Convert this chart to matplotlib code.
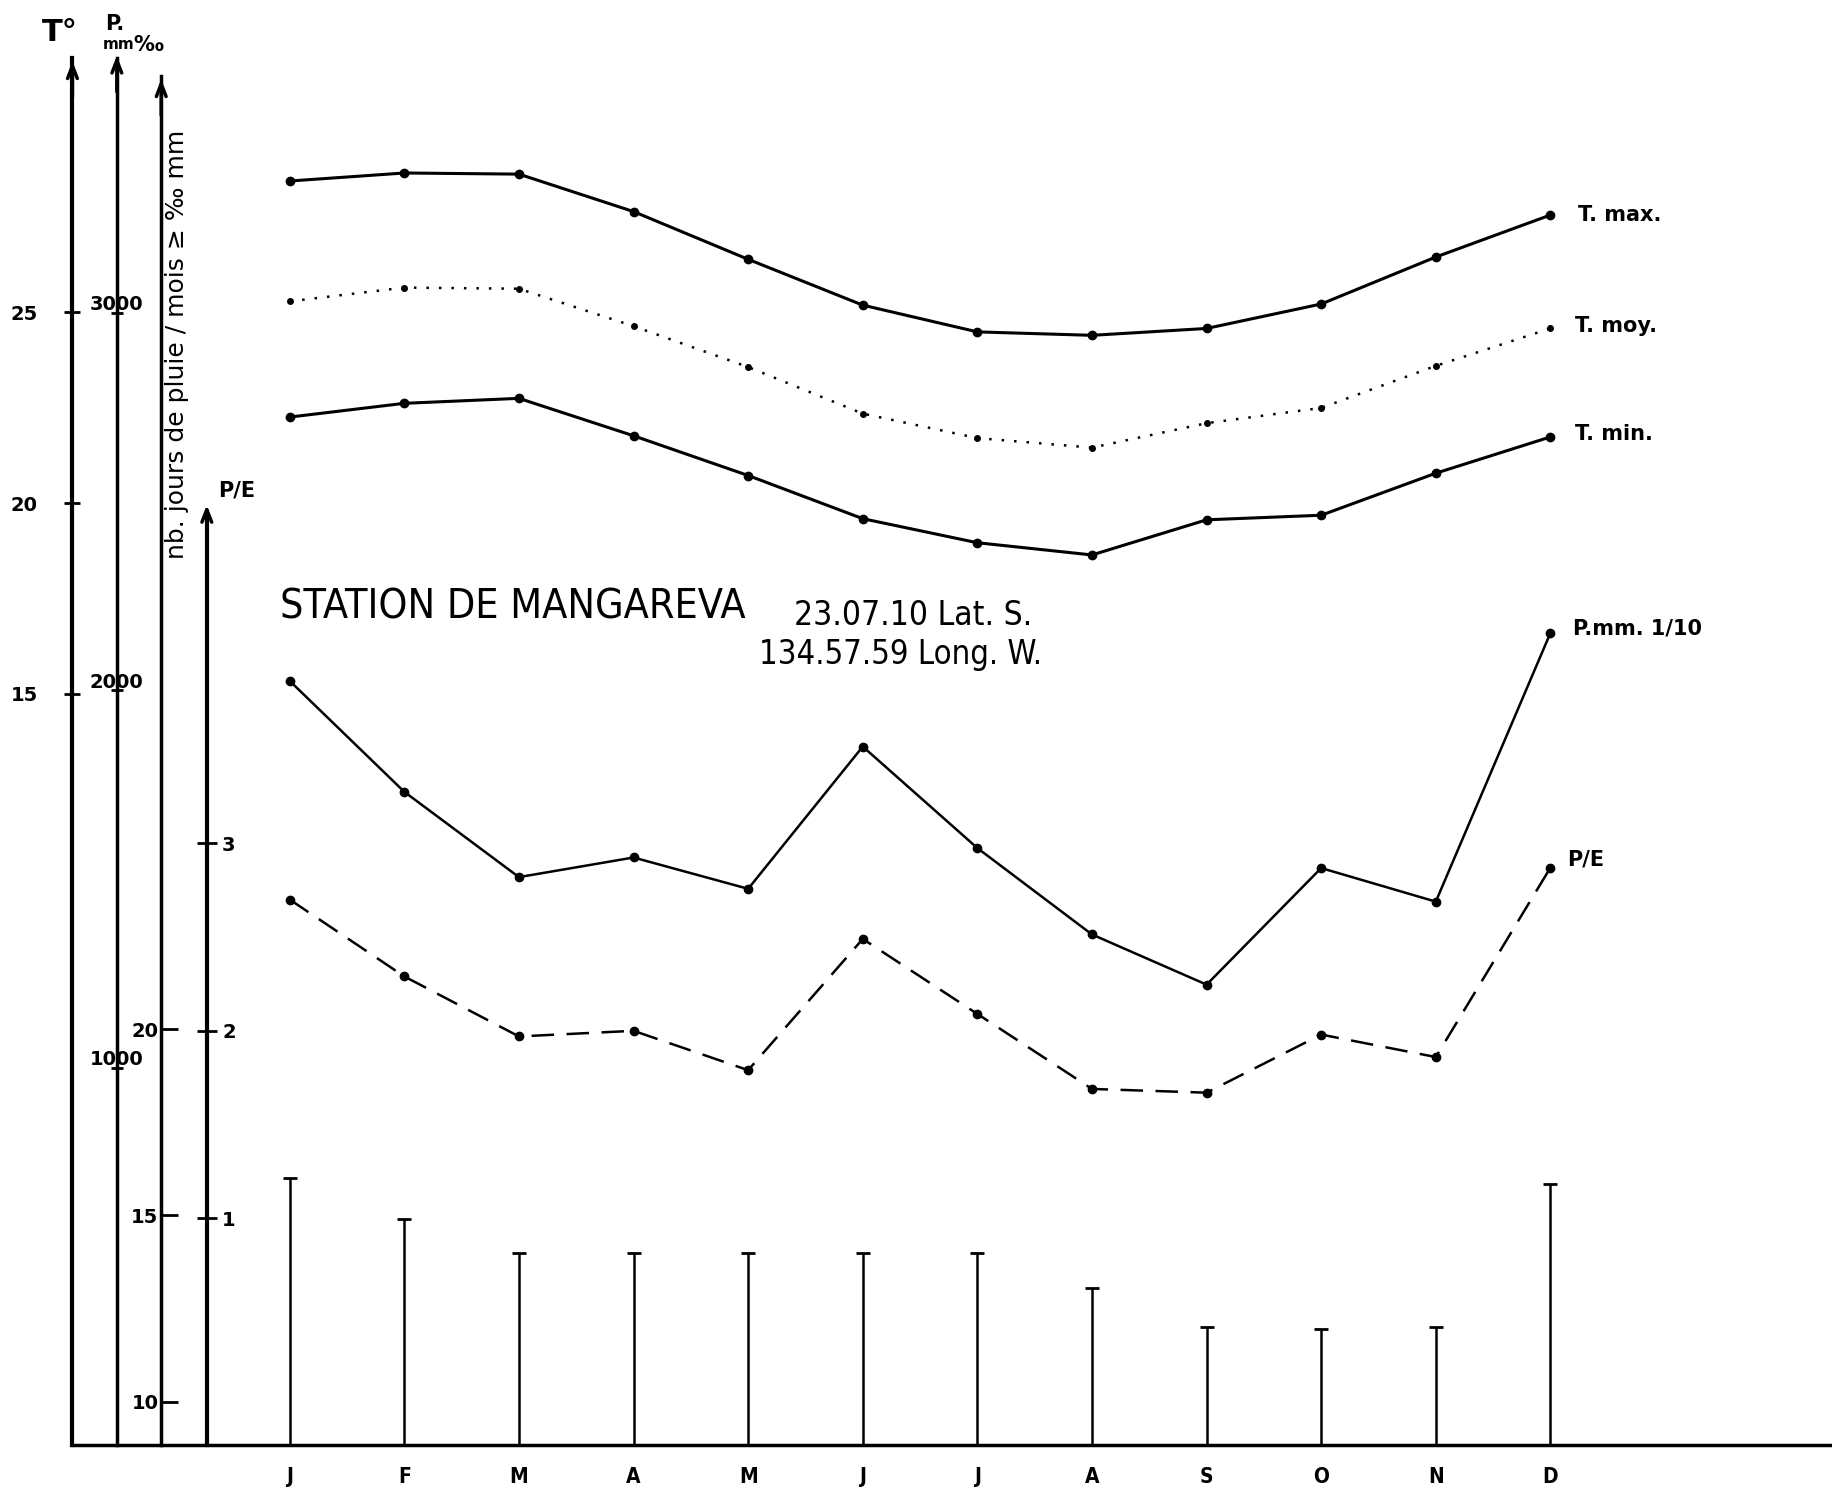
import matplotlib.pyplot as plt

# mois
months = ['J', 'F', 'M', 'A', 'M', 'J', 'J', 'A', 'S', 'O', 'N', 'D']
x = list(range(1, 13))

# temperatures (deg C)
t_max = [28.43, 28.64, 28.61, 27.63, 26.38, 25.18, 24.48, 24.39, 24.57, 25.21, 26.44, 27.54]
t_moy = [25.28, 25.64, 25.61, 24.63, 23.56, 22.34, 21.70, 21.45, 22.09, 22.49, 23.59, 24.57]
t_min = [22.25, 22.61, 22.74, 21.76, 20.72, 19.59, 18.96, 18.64, 19.56, 19.68, 20.78, 21.73]

# precipitations (1/10 mm)
p_mm = [2025, 1731, 1505, 1557, 1474, 1851, 1582, 1353, 1220, 1529, 1440, 2152]

# rapport P/E
p_e = [2.70, 2.29, 1.97, 2.00, 1.79, 2.49, 2.09, 1.69, 1.67, 1.98, 1.86, 2.87]

# nb jours de pluie / mois
rain_days = [16.0, 14.9, 14.0, 14.0, 14.0, 14.0, 14.0, 13.06, 12.0, 11.95, 12.0, 15.85]

t_ticks = [15, 20, 25]
p_ticks = [1000, 2000, 3000]
d_ticks = [10, 15, 20]
pe_ticks = [1, 2, 3]

hand = ['DejaVu Sans']

fig = plt.figure(figsize=(18.32, 14.94), dpi=100)
ax = fig.add_axes([0.03954, 0.03284, 0.96046, 0.92807])
ax.set_xlim(-0.896, 14.457)
ax.set_ylim(-4.66, 31.64)

ax_p = ax.twinx()
ax_p.set_ylim(0, 3675)
ax_d = ax.twinx()
ax_d.set_ylim(8.84, 46.06)
ax_pe = ax.twinx()
ax_pe.set_ylim(-0.209, 7.187)

for a in (ax, ax_p, ax_d, ax_pe):
    for s in a.spines.values():
        s.set_visible(False)
    a.patch.set_visible(False)

# axe des x (ligne de base)
ax.spines['bottom'].set_visible(True)
ax.spines['bottom'].set_linewidth(2.5)
ax.set_xticks(x)
ax.set_xticklabels(months, fontsize=15, fontweight='bold', family=hand, fontstretch='condensed')
ax.tick_params(axis='x', length=0, pad=16)

# axe T
ax.spines['left'].set_visible(True)
ax.spines['left'].set_linewidth(3)
ax.set_yticks(t_ticks)
ax.set_yticklabels([str(t) for t in t_ticks], fontsize=14, fontweight='bold')
ax.tick_params(axis='y', direction='inout', length=12, width=2, pad=19)

# axe P
pos_p = 0.02523
ax_p.yaxis.set_ticks_position('left')
ax_p.spines['left'].set_position(('axes', pos_p))
ax_p.spines['left'].set_visible(True)
ax_p.spines['left'].set_linewidth(2.5)
ax_p.set_yticks(p_ticks)
ax_p.set_yticklabels([])
ax_p.tick_params(axis='y', direction='inout', length=8, width=2)
for v in p_ticks:
    ax_p.annotate(str(v), xy=(pos_p, v), xycoords=ax_p.get_yaxis_transform(),
                  xytext=(0, 6), textcoords='offset points', ha='center', va='center',
                  fontsize=14, fontweight='bold')

# axe nb jours
pos_d = 0.05046
ax_d.yaxis.set_ticks_position('left')
ax_d.spines['left'].set_position(('axes', pos_d))
ax_d.spines['left'].set_visible(True)
ax_d.spines['left'].set_linewidth(2.5)
ax_d.spines['left'].set_bounds(8.84, 45.6)
ax_d.set_yticks(d_ticks)
ax_d.set_yticklabels([str(v) for v in d_ticks], fontsize=14, fontweight='bold')
ax_d.tick_params(axis='y', direction='in', length=12, width=2, pad=2)

# axe P/E
pos_pe = 0.07636
ax_pe.yaxis.set_ticks_position('right')
ax_pe.spines['right'].set_position(('axes', pos_pe))
ax_pe.spines['right'].set_visible(True)
ax_pe.spines['right'].set_linewidth(3)
ax_pe.spines['right'].set_bounds(-0.209, 4.75)
ax_pe.set_yticks(pe_ticks)
ax_pe.set_yticklabels([str(v) for v in pe_ticks], fontsize=14, fontweight='bold')
ax_pe.tick_params(axis='y', direction='inout', length=14, width=2, pad=4)

# fleches
arrow = dict(arrowstyle='->,head_length=0.9,head_width=0.35', lw=2.5, color='black')
for xp, yt in [(0.0, 1.0), (pos_p, 1.004), (pos_d, 0.987), (pos_pe, 0.68)]:
    ax.annotate('', xy=(xp, yt), xycoords='axes fraction', xytext=(xp, yt - 0.03),
                arrowprops=arrow, annotation_clip=False)

# nb jours de pluie : batons
ax_d.vlines(x, 8.84, rain_days, colors='black', lw=1.8)
ax_d.plot(x, rain_days, linestyle='none', marker='_', ms=10, mew=2, color='black')

# courbes de temperature
ax.plot(x, t_max, color='black', lw=2.2, marker='o', ms=6)
ax.plot(x, t_moy, color='black', lw=1.8, linestyle=(0, (1, 4)), marker='o', ms=4)
ax.plot(x, t_min, color='black', lw=2.2, marker='o', ms=6)

# precipitations et P/E
ax_p.plot(x, p_mm, color='black', lw=1.8, marker='o', ms=6)
ax_pe.plot(x, p_e, color='black', lw=1.8, linestyle=(0, (9, 5)), marker='o', ms=6)

lab = dict(textcoords='offset points', va='center', fontsize=15, fontweight='bold')
ax.annotate('T. max.', xy=(12, t_max[-1]), xytext=(20, 0), **lab)
ax.annotate('T. moy.', xy=(12, t_moy[-1]), xytext=(18, 2), **lab)
ax.annotate('T. min.', xy=(12, t_min[-1]), xytext=(18, 2), **lab)
ax_p.annotate('P.mm. 1/10', xy=(12, p_mm[-1]), xytext=(16, 3), **lab)
ax_pe.annotate('P/E', xy=(12, p_e[-1]), xytext=(12, 6), **lab)

# titres
ax.text(0.118, 0.604, 'STATION DE MANGAREVA', transform=ax.transAxes,
        fontsize=29.5, family=hand, fontstretch='condensed', va='center', ha='left')
ax.text(0.410, 0.598, '23.07.10 Lat. S.', transform=ax.transAxes,
        fontsize=24, family=hand, fontstretch='condensed', va='center', ha='left')
ax.text(0.390, 0.570, '134.57.59 Long. W.', transform=ax.transAxes,
        fontsize=23.5, family=hand, fontstretch='condensed', va='center', ha='left')

# etiquettes des axes
ax.text(-0.007, 1.019, 'T°', transform=ax.transAxes, fontsize=22, fontweight='bold',
        ha='center', va='center')
ax.text(pos_p - 0.001, 1.025, 'P.', transform=ax.transAxes, fontsize=15, fontweight='bold',
        ha='center', va='center')
ax.text(pos_p + 0.001, 1.010, 'mm', transform=ax.transAxes, fontsize=11, fontweight='bold',
        ha='center', va='center')
ax.text(pos_p + 0.018, 1.010, '‰', transform=ax.transAxes, fontsize=15, fontweight='bold',
        ha='center', va='center')
ax.text(pos_d + 0.009, 0.794, 'nb. jours de pluie / mois ≥ ‰ mm', transform=ax.transAxes,
        fontsize=18, rotation=90, ha='center', va='center')
ax.text(pos_pe + 0.017, 0.688, 'P/E', transform=ax.transAxes, fontsize=15, fontweight='bold',
        ha='center', va='center')

fig.savefig('out.png', dpi=100)
